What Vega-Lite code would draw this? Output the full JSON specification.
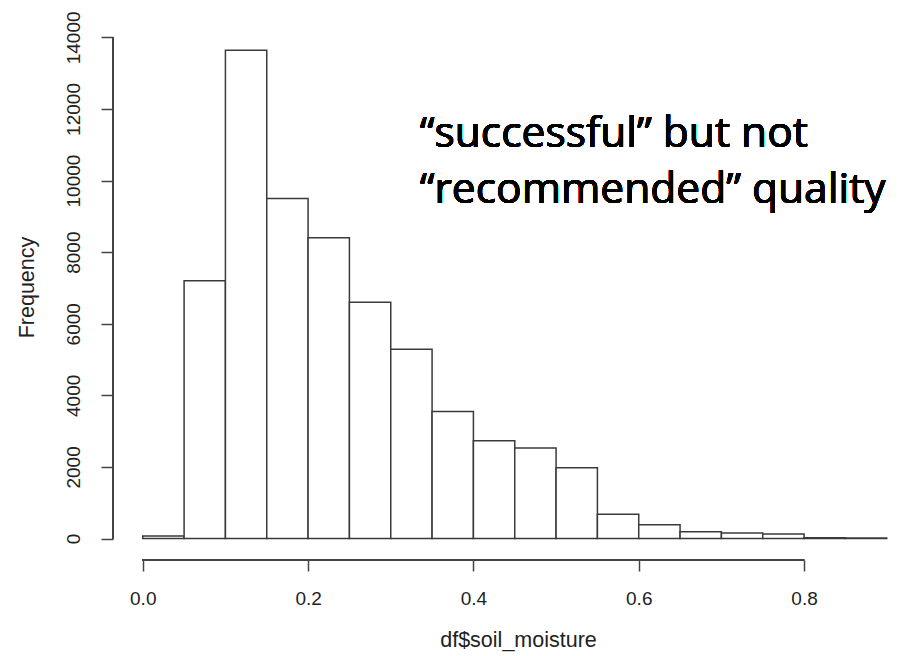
{
  "$schema": "https://vega.github.io/schema/vega-lite/v6.json",
  "width": 782,
  "height": 528,
  "autosize": {"type": "none"},
  "padding": {"left": 113, "top": 32, "right": 6, "bottom": 96},
  "background": "white",
  "config": {
    "view": {"stroke": null},
    "axis": {
      "labelFont": "Liberation Sans",
      "titleFont": "Liberation Sans",
      "labelFontSize": 19,
      "titleFontSize": 21.5,
      "titleFontWeight": "normal",
      "labelColor": "#222",
      "titleColor": "#222",
      "tickColor": "#444",
      "tickWidth": 1.5,
      "grid": false,
      "domain": false
    }
  },
  "data": {
    "values": [
      {"bin_start": 0.0, "bin_end": 0.05, "count": 70},
      {"bin_start": 0.05, "bin_end": 0.1, "count": 7200},
      {"bin_start": 0.1, "bin_end": 0.15, "count": 13640},
      {"bin_start": 0.15, "bin_end": 0.2, "count": 9500},
      {"bin_start": 0.2, "bin_end": 0.25, "count": 8400},
      {"bin_start": 0.25, "bin_end": 0.3, "count": 6600},
      {"bin_start": 0.3, "bin_end": 0.35, "count": 5290},
      {"bin_start": 0.35, "bin_end": 0.4, "count": 3550},
      {"bin_start": 0.4, "bin_end": 0.45, "count": 2730},
      {"bin_start": 0.45, "bin_end": 0.5, "count": 2530},
      {"bin_start": 0.5, "bin_end": 0.55, "count": 1980},
      {"bin_start": 0.55, "bin_end": 0.6, "count": 675},
      {"bin_start": 0.6, "bin_end": 0.65, "count": 385},
      {"bin_start": 0.65, "bin_end": 0.7, "count": 190},
      {"bin_start": 0.7, "bin_end": 0.75, "count": 155},
      {"bin_start": 0.75, "bin_end": 0.8, "count": 125},
      {"bin_start": 0.8, "bin_end": 0.85, "count": 25},
      {"bin_start": 0.85, "bin_end": 0.9, "count": 12}
    ]
  },
  "layer": [
    {
      "mark": {"type": "rect", "fill": "white", "stroke": "#3a3a3a", "strokeWidth": 1.5},
      "encoding": {
        "x": {
          "field": "bin_start",
          "type": "quantitative",
          "scale": {"domain": [-0.036, 0.91], "nice": false, "zero": false},
          "axis": {
            "values": [0, 0.2, 0.4, 0.6, 0.8],
            "format": ".1f",
            "tickSize": 11,
            "labelPadding": 18,
            "title": "df$soil_moisture",
            "titleX": 405,
            "titleY": 86,
            "titleBaseline": "alphabetic"
          }
        },
        "x2": {"field": "bin_end"},
        "y": {
          "field": "count",
          "type": "quantitative",
          "scale": {"domain": [-600, 14150], "nice": false, "zero": false},
          "axis": {
            "values": [0, 2000, 4000, 6000, 8000, 10000, 12000, 14000],
            "format": "d",
            "labelAngle": -90,
            "labelAlign": "center",
            "labelBaseline": "alphabetic",
            "tickSize": 12,
            "labelPadding": 22,
            "title": "Frequency",
            "titleAngle": -90,
            "titleBaseline": "alphabetic",
            "titleAlign": "center",
            "titleX": -80,
            "titleY": 255
          }
        },
        "y2": {"datum": 0}
      }
    },
    {
      "mark": {"type": "rule", "stroke": "#444", "strokeWidth": 1.5},
      "encoding": {
        "x": {"datum": -0.036},
        "y": {"datum": 0},
        "y2": {"datum": 14000}
      }
    },
    {
      "mark": {"type": "rule", "stroke": "#444", "strokeWidth": 1.5},
      "encoding": {
        "x": {"datum": 0},
        "x2": {"datum": 0.8},
        "y": {"datum": -600}
      }
    },
    {
      "mark": {
        "type": "text",
        "text": ["“successful” but not", "“recommended” quality"],
        "font": "Open Sans",
        "fontSize": 42.5,
        "align": "left",
        "baseline": "alphabetic",
        "lineHeight": 56,
        "color": "#000"
      },
      "encoding": {
        "x": {"datum": 0.335},
        "y": {"datum": 10938}
      }
    }
  ]
}
